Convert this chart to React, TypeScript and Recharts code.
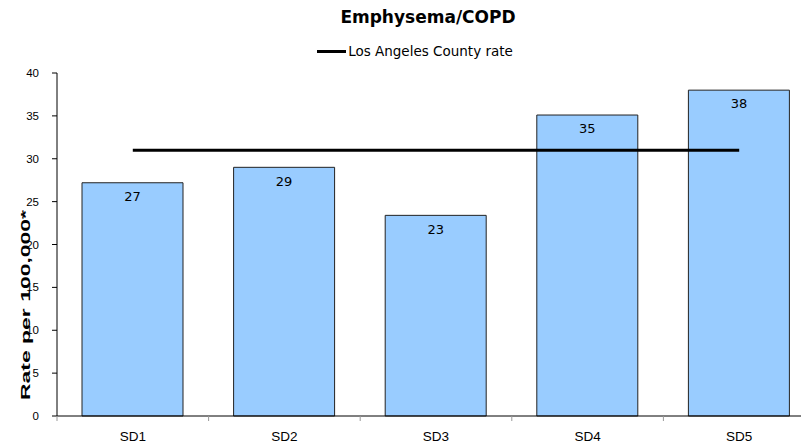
import React from 'react';
import {
  ComposedChart,
  Bar,
  Line,
  XAxis,
  YAxis,
  Legend,
  LabelList,
  Label
} from 'recharts';

const districts = ['SD1', 'SD2', 'SD3', 'SD4', 'SD5'];
const rates = [27.2, 29.0, 23.4, 35.1, 38.0];
const countyRate = [31, 31, 31, 31, 31];
const yTicks = [0, 5, 10, 15, 20, 25, 30, 35, 40];

const data = districts.map((d, i) => ({ name: d, rate: rates[i], county: countyRate[i] }));

// y label is stretched along its length in the original, hence the scale
const YLabel = () => (
  <text
    x={0}
    y={0}
    transform="translate(25, 305) rotate(-90) scale(1.7, 1)"
    textAnchor="middle"
    dominantBaseline="central"
    style={{ fontFamily: 'Liberation Sans, Arial, sans-serif', fontSize: 13.5, fontWeight: 'bold', fill: '#000' }}
  >
    Rate per 100,000*
  </text>
);

// category label plus a tick mark on the category boundaries (band edges)
const CategoryTick = (props: any) => {
  const { x, y, payload, index } = props;
  const half = payload.offset || 0;
  return (
    <g>
      {index === 0 && <line x1={x - half} y1={y} x2={x - half} y2={y + 5} stroke="#999" />}
      <line x1={x + half} y1={y} x2={x + half} y2={y + 5} stroke="#999" />
      <text
        x={x}
        y={y + 25}
        textAnchor="middle"
        fill="#000"
        style={{ fontSize: 13.5, fontFamily: 'Liberation Sans, Arial, sans-serif' }}
      >
        {payload.value}
      </text>
    </g>
  );
};

const LegendContent = () => (
  <div style={{ display: 'flex', alignItems: 'center', justifyContent: 'center', fontFamily: 'DejaVu Sans, Verdana, sans-serif', fontSize: 13.5, color: '#000' }}>
    <span style={{ display: 'inline-block', width: 29, height: 3, background: '#000', marginRight: 2 }} />
    <span>Los Angeles County rate</span>
  </div>
);

export default function App() {
  return (
    <div style={{ position: 'absolute', left: 0, top: 0, width: 801, height: 447, overflow: 'hidden', background: '#fff' }}>
      <div
        style={{
          position: 'absolute',
          left: 0,
          top: 7,
          width: 856,
          textAlign: 'center',
          fontFamily: 'DejaVu Sans, Verdana, sans-serif',
          fontWeight: 'bold',
          fontSize: 17,
          color: '#000'
        }}
      >
        Emphysema/COPD
      </div>
      <ComposedChart
        width={830}
        height={447}
        data={data}
        margin={{ top: 73, right: 15, bottom: 0, left: 0 }}
      >
        <XAxis
          dataKey="name"
          height={31}
          tickLine={false}
          tickSize={0}
          tickMargin={0}
          axisLine={{ stroke: '#000' }}
          tick={<CategoryTick />}
          interval={0}
        />
        <YAxis
          width={57}
          domain={[0, 40]}
          ticks={yTicks}
          interval={0}
          tickSize={5}
          axisLine={{ stroke: '#000' }}
          tickLine={{ stroke: '#000' }}
          tick={{ fill: '#000', fontSize: 11.5, fontFamily: 'Liberation Sans, Arial, sans-serif' }}
          dx={-11}
        >
          <Label content={<YLabel />} />
        </YAxis>
        <Legend
          verticalAlign="middle"
          align="center"
          content={<LegendContent />}
          wrapperStyle={{ top: 43, left: 0, width: 830 }}
        />
        <Bar dataKey="rate" fill="#99CCFF" stroke="#222" strokeWidth={1} barSize={101} isAnimationActive={false} legendType="none">
          <LabelList
            dataKey="rate"
            position="insideTop"
            offset={9}
            formatter={(v: any) => Math.round(Number(v))}
            style={{ fill: '#000', fontSize: 13, fontFamily: 'DejaVu Sans, Verdana, sans-serif' }}
          />
        </Bar>
        <Line
          dataKey="county"
          name="Los Angeles County rate"
          stroke="#000"
          strokeWidth={3}
          dot={false}
          activeDot={false}
          isAnimationActive={false}
        />
      </ComposedChart>
    </div>
  );
}
